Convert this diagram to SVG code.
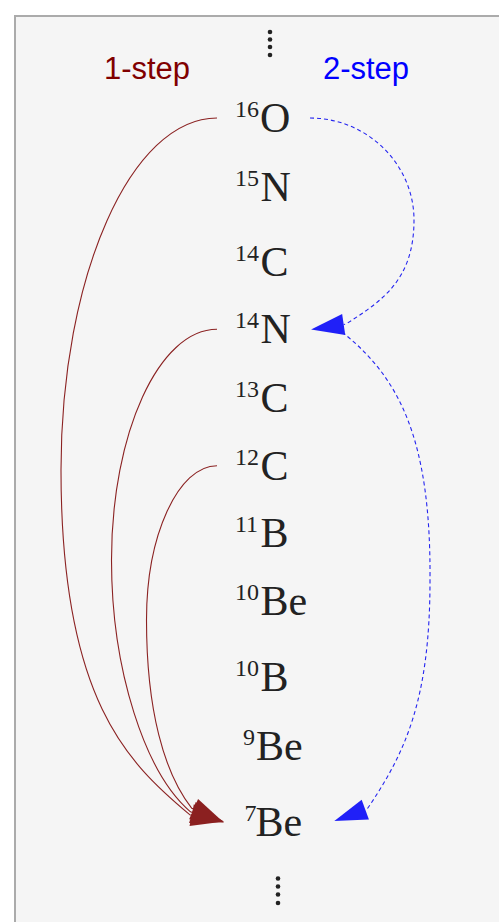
<svg xmlns="http://www.w3.org/2000/svg" width="499" height="922" viewBox="0 0 499 922">
<style>
.nuc{font-family:"Liberation Serif","DejaVu Serif",serif;fill:#222;}
.el{font-size:42px;}
.sup{font-size:24px;}
.lbl{font-family:"Liberation Sans",Arial,sans-serif;font-size:31px;text-anchor:middle;}
.one{fill:none;stroke:#8b2222;stroke-width:1.1;marker-end:url(#arRed);}
.two{fill:none;stroke:#2525f0;stroke-width:1.1;stroke-dasharray:4 3;marker-end:url(#arBlue);}
.dot{fill:#222;}
</style>
<defs>
<marker id="arRed" markerUnits="userSpaceOnUse" viewBox="0 0 33 22" refX="0" refY="11" markerWidth="33" markerHeight="22" orient="auto" overflow="visible">
<path d="M0,0 L33,11 L0,22 z" fill="#8b2020"/>
</marker>
<marker id="arBlue" markerUnits="userSpaceOnUse" viewBox="0 0 33 22" refX="0" refY="11" markerWidth="33" markerHeight="22" orient="auto" overflow="visible">
<path d="M0,0.5 L33,11 L0,21.5 z" fill="#2020f8"/>
</marker>
</defs>
<rect x="0" y="0" width="499" height="922" fill="#ffffff"/>
<rect id="frame" x="15" y="16" width="600" height="1000" fill="#f5f5f5" stroke="#ababab" stroke-width="2"/>
<g id="dots-top">
<circle class="dot" cx="270" cy="32" r="2.3"/>
<circle class="dot" cx="270" cy="39.5" r="2.3"/>
<circle class="dot" cx="270" cy="47" r="2.3"/>
<circle class="dot" cx="270" cy="55" r="2.3"/>
</g>
<g id="dots-bottom">
<circle class="dot" cx="278" cy="878.5" r="2.3"/>
<circle class="dot" cx="278" cy="886.5" r="2.3"/>
<circle class="dot" cx="278" cy="894.5" r="2.3"/>
<circle class="dot" cx="278" cy="903" r="2.3"/>
</g>
<g id="legend">
<text class="lbl" x="147" y="79" fill="#800000">1-step</text>
<text class="lbl" x="366" y="79" fill="#0000ff">2-step</text>
</g>
<g id="connectors">
<path id="e-O16-Be7" class="one" d="M217,118 C131,118 61,276 61,470 C61,700 128,763 189.7,814.7 L191.7,815.1"/>
<path id="e-N14-Be7" class="one" d="M217,329.3 C159,329.3 111.5,433 111.5,560 C111.5,670 145,773 190.5,811.8 L192.4,812.4"/>
<path id="e-C12-Be7" class="one" d="M217,465.7 C178.2,465.7 146.5,535.3 146.5,620 C146.5,710 164,773 191.8,808.3 L193.6,809.1"/>
<path id="e-O16-N14" class="two" d="M310,118 C367,118 414,164 414,220 C414,280 382,301 345.7,324.2 L343.7,324.5"/>
<path id="e-N14-Be7b" class="two" d="M342,332 C400,378 431,440 430,580 C430,700 405.5,752.4 367.2,809 L365.3,809.7"/>
</g>
<g id="n-O16"><text class="nuc"><tspan class="sup" x="235" y="116.5">16</tspan><tspan class="el" x="260" y="132">O</tspan></text></g>
<g id="n-N15"><text class="nuc"><tspan class="sup" x="235" y="185.5">15</tspan><tspan class="el" x="260.5" y="201">N</tspan></text></g>
<g id="n-C14"><text class="nuc"><tspan class="sup" x="235" y="260.5">14</tspan><tspan class="el" x="260.5" y="276">C</tspan></text></g>
<g id="n-N14"><text class="nuc"><tspan class="sup" x="235" y="327.5">14</tspan><tspan class="el" x="260.5" y="343">N</tspan></text></g>
<g id="n-C13"><text class="nuc"><tspan class="sup" x="235" y="396.5">13</tspan><tspan class="el" x="260.5" y="412">C</tspan></text></g>
<g id="n-C12"><text class="nuc"><tspan class="sup" x="235" y="464.5">12</tspan><tspan class="el" x="260.5" y="480">C</tspan></text></g>
<g id="n-B11"><text class="nuc"><tspan class="sup" x="235" y="531.5">11</tspan><tspan class="el" x="260.5" y="547">B</tspan></text></g>
<g id="n-Be10"><text class="nuc"><tspan class="sup" x="235" y="599.5">10</tspan><tspan class="el" x="260.5" y="615">Be</tspan></text></g>
<g id="n-B10"><text class="nuc"><tspan class="sup" x="235" y="675.5">10</tspan><tspan class="el" x="260.5" y="691">B</tspan></text></g>
<g id="n-Be9"><text class="nuc"><tspan class="sup" x="243" y="744.5">9</tspan><tspan class="el" x="256" y="760">Be</tspan></text></g>
<g id="n-Be7"><text class="nuc"><tspan class="sup" x="244.5" y="820.5">7</tspan><tspan class="el" x="255.5" y="836">Be</tspan></text></g>
</svg>
